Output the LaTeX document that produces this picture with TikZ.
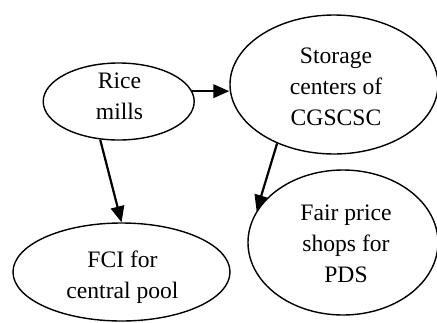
\documentclass[tikz,border=0pt]{standalone}
\usepackage{fontspec}
\setmainfont{Liberation Serif}
\usetikzlibrary{shapes.geometric,arrows.meta}
\begin{document}
\begin{tikzpicture}[x=1pt,y=-1pt,
  oval/.style={ellipse,draw,line width=1.4pt,inner sep=0pt},
  lbl/.style={anchor=north,inner sep=0pt,align=center,font=\fontsize{23.6}{31}\selectfont},
  flow/.style={line width=2.2pt,-{Triangle[length=16pt,width=13.5pt]}}]
\useasboundingbox (0,0) rectangle (437,322);
\clip (0,0) rectangle (437,322);
\node[oval,minimum width=151pt,minimum height=77pt] (rice) at (118.7,101.5) {};
\node[oval,minimum width=208pt,minimum height=139pt] (storage) at (334,84.5) {};
\node[oval,minimum width=217pt,minimum height=98pt] (fci) at (121.5,272) {};
\node[oval,minimum width=190pt,minimum height=145pt] (fair) at (343,242.5) {};
\node[lbl] (ricet) at (119.5,72.2) {Rice\\mills};
\node[lbl] (storaget) at (336,47.3) {Storage\\centers of\\CGSCSC};
\node[lbl] (fcit) at (122.5,251) {FCI for\\central pool};
\node[lbl] (fairt) at (346,205) {Fair price\\shops for\\PDS};
\draw[flow] (rice.8) -- (rice.8 -| storage.west);
\draw[flow] (rice.-116) -- (fci.north);
\draw[flow] (storage.-134) -- (fair.160);
\end{tikzpicture}
\end{document}
